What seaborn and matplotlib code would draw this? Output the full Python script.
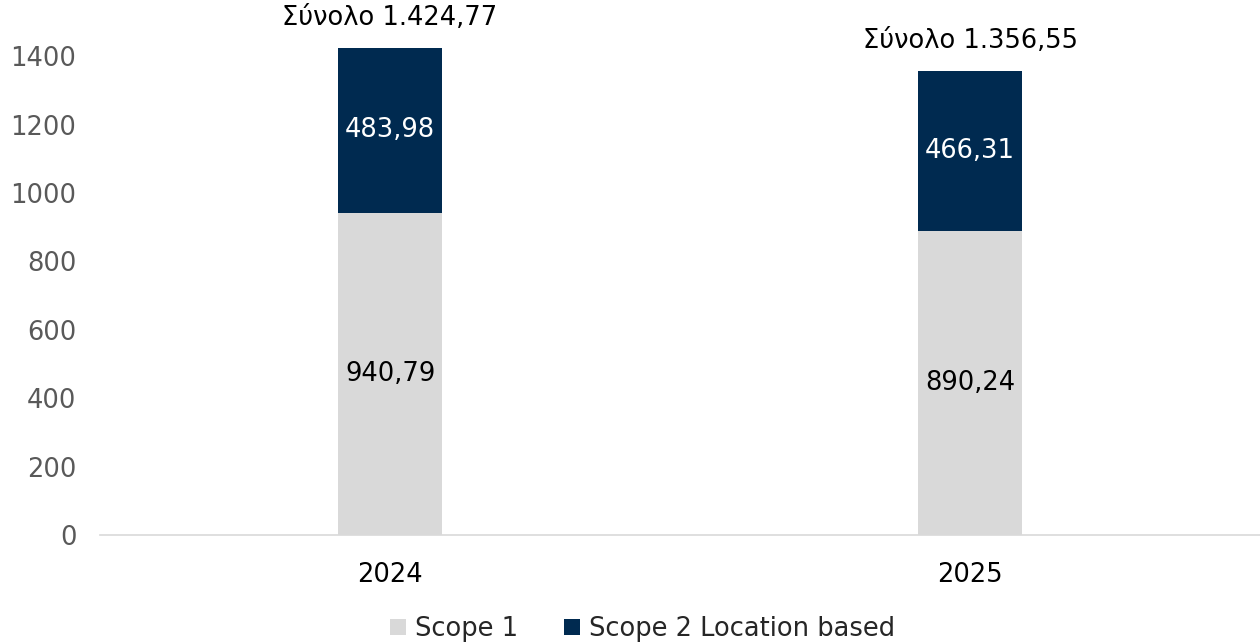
import matplotlib
matplotlib.use("Agg")
import matplotlib.pyplot as plt
from matplotlib.patches import Patch
import seaborn as sns
import pandas as pd

years = ["2024", "2025"]
scope1 = [940.79, 890.24]
scope2 = [483.98, 466.31]
scope1_labels = ["940,79", "890,24"]
scope2_labels = ["483,98", "466,31"]
total_labels = ["Σύνολο 1.424,77", "Σύνολο 1.356,55"]
yticks = [0, 200, 400, 600, 800, 1000, 1200, 1400]
series_names = ["Scope 1", "Scope 2 Location based"]

c1 = "#D9D9D9"
c2 = "#002A50"
fs = 18.5

sns.set_theme(style="white")
plt.rcParams["font.family"] = ["DejaVu Sans"]

totals = [a + b for a, b in zip(scope1, scope2)]
df = pd.DataFrame({"year": years, "s1": scope1, "s2": scope2, "total": totals})

fig = plt.figure(figsize=(12.6, 6.44), dpi=100)
ax = fig.add_axes([0.0794, 0.169, 0.9206, 0.797])

sns.barplot(data=df, x="year", y="total", color=c2, width=0.179, ax=ax,
            saturation=1, linewidth=0, edgecolor="none")
sns.barplot(data=df, x="year", y="s1", color=c1, width=0.179, ax=ax,
            saturation=1, linewidth=0, edgecolor="none")

ax.set_xlim(-0.5, 1.5)
ax.set_ylim(0, 1500)
ax.set_yticks(yticks)
ax.set_yticklabels([str(t) for t in yticks])
ax.set_xlabel("")
ax.set_ylabel("")
ax.tick_params(axis="y", labelsize=fs, colors="#595959", length=0, pad=17)
ax.tick_params(axis="x", labelsize=fs, colors="#000000", length=0, pad=19)
for s in ["top", "right", "left"]:
    ax.spines[s].set_visible(False)
ax.spines["bottom"].set_color("#D9D9D9")
ax.spines["bottom"].set_linewidth(1.2)

for i in range(len(years)):
    ax.text(i, scope1[i] / 2, scope1_labels[i], ha="center", va="center",
            fontsize=fs, color="#000000")
    ax.text(i, scope1[i] + scope2[i] / 2, scope2_labels[i], ha="center", va="center",
            fontsize=fs, color="#FFFFFF")
    ax.annotate(total_labels[i], (i, totals[i]), xytext=(0, 12), textcoords="offset points",
                ha="center", va="bottom", fontsize=fs, color="#000000")

handles = [Patch(facecolor=c1, edgecolor="none"), Patch(facecolor=c2, edgecolor="none")]
fig.legend(handles, series_names, loc="lower center", bbox_to_anchor=(0.51, -0.033),
           ncol=2, frameon=False, fontsize=fs, handlelength=0.6, handleheight=0.6,
           handletextpad=0.35, columnspacing=1.8)

fig.savefig("out.png", dpi=100)
